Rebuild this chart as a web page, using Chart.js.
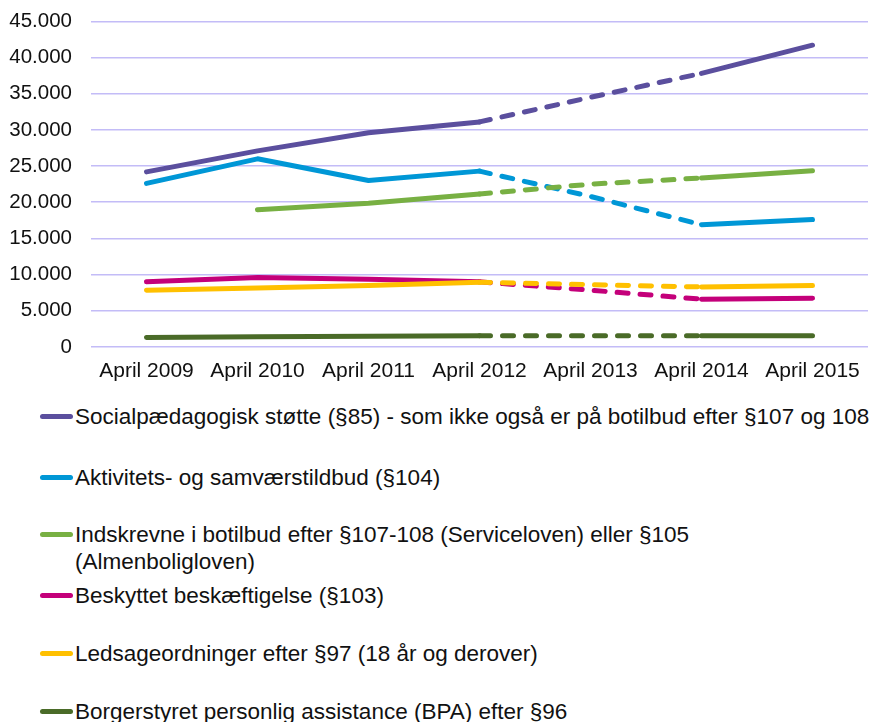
<!DOCTYPE html>
<html lang="da">
<head>
<meta charset="UTF-8">
<title>Udvikling i antal modtagere</title>
<script src="https://cdn.jsdelivr.net/npm/chart.js"></script>
<style>
  body { margin: 0; background: #fff; font-family: "Liberation Sans", Arial, sans-serif; overflow: hidden; }
  #wrap { position: relative; width: 881px; height: 722px; overflow: hidden; }
  #chart-box { position: absolute; left: 0; top: -10px; width: 881px; height: 405px; }
  #legend { position: absolute; left: 0; top: 395px; width: 881px; }
  .item { position: absolute; left: 40px; display: flex; align-items: flex-start; }
  .item .swatch { width: 33px; height: 5px; border-radius: 3px; margin-top: 11px; }
  .item .txt { margin-left: 2px; font-size: 22.5px; line-height: 27px; color: #111; white-space: pre-line; }
</style>
</head>
<body>
<div id="wrap">
  <div id="chart-box"><canvas id="c"></canvas></div>
  <div id="legend"></div>
</div>
<script>
// data
const years = ['April 2009', 'April 2010', 'April 2011', 'April 2012', 'April 2013', 'April 2014', 'April 2015'];

const socialpaed = [24200, 27100, 29600, 31100, 34500, 37800, 41700];
const aktivitet  = [22600, 26000, 23000, 24300, 20800, 16900, 17600];
const botilbud   = [null, 18950, 19850, 21150, 22500, 23350, 24350];
const beskyttet  = [9000, 9600, 9350, 9000, 7850, 6600, 6750];
const ledsage    = [7850, 8150, 8500, 8950, 8600, 8300, 8500];
const bpa        = [1300, 1420, 1500, 1550, 1550, 1550, 1550];

const names = [
  'Socialpædagogisk støtte (§85) - som ikke også er på botilbud efter §107 og 108',
  'Aktivitets- og samværstildbud (§104)',
  'Indskrevne i botilbud efter §107-108 (Serviceloven) eller §105\n(Almenboligloven)',
  'Beskyttet beskæftigelse (§103)',
  'Ledsageordninger efter §97 (18 år og derover)',
  'Borgerstyret personlig assistance (BPA) efter §96'
];
const colors = ['#5b4f9e', '#0097d6', '#78b043', '#c4007a', '#ffc000', '#4a6b28'];
const legendTops = [8, 69, 126, 187, 245, 303];

const series = [socialpaed, aktivitet, botilbud, beskyttet, ledsage, bpa];

// 2012-2014 is drawn dashed
const dashed = ctx => (ctx.p0DataIndex >= 3 && ctx.p1DataIndex <= 5) ? [11, 12] : undefined;

new Chart(document.getElementById('c'), {
  type: 'line',
  data: {
    labels: years,
    datasets: series.map((d, i) => ({
      label: names[i],
      data: d,
      borderColor: colors[i],
      backgroundColor: colors[i],
      borderWidth: 5,
      borderCapStyle: 'round',
      borderJoinStyle: 'round',
      pointRadius: 0,
      tension: 0,
      fill: false,
      segment: { borderDash: dashed }
    })).reverse()
  },
  options: {
    responsive: true,
    maintainAspectRatio: false,
    animation: false,
    layout: { padding: { top: 0, right: 13, left: 0, bottom: 0 } },
    plugins: { legend: { display: false }, tooltip: { enabled: false } },
    scales: {
      x: {
        offset: true,
        grid: { display: false, drawTicks: false },
        border: { display: false },
        ticks: { color: '#111', font: { size: 21, family: 'Liberation Sans' }, padding: 12, maxRotation: 0 },
        afterFit: s => { s.height = 48; }
      },
      y: {
        min: 0,
        max: 45000,
        grid: { color: '#c3bcf7', lineWidth: 1.5, drawTicks: false },
        border: { display: false },
        ticks: {
          stepSize: 5000,
          color: '#111',
          padding: 19,
          font: { size: 20.5, family: 'Liberation Sans' },
          callback: v => v === 0 ? '0' : v.toLocaleString('da-DK')
        },
        afterFit: s => { s.width = 91; }
      }
    }
  }
});

// legend below the chart
const leg = document.getElementById('legend');
names.forEach((n, i) => {
  const row = document.createElement('div');
  row.className = 'item';
  row.style.top = legendTops[i] + 'px';
  row.innerHTML = '<div class="swatch" style="background:' + colors[i] + '"></div><div class="txt"></div>';
  row.querySelector('.txt').textContent = n;
  leg.appendChild(row);
});
</script>
</body>
</html>
